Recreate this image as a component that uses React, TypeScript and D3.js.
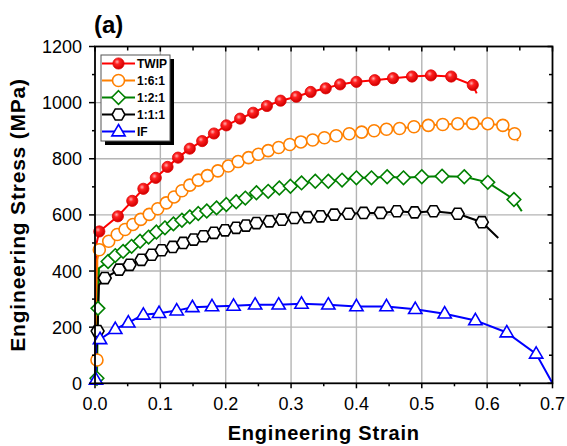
import React from 'react';
import * as d3 from 'd3';

type Pt = [number, number];

// strain, stress (MPa)
const twipKnee: Pt[] = [[0.0025, 500]];
const twipMarks: Pt[] = [
  [0.0066, 541], [0.035, 595], [0.057, 650], [0.074, 693], [0.093, 732], [0.111, 771],
  [0.127, 804], [0.145, 836], [0.164, 863], [0.182, 890], [0.201, 919], [0.222, 943],
  [0.242, 964], [0.263, 988], [0.284, 1007], [0.308, 1021], [0.330, 1038], [0.353, 1051],
  [0.375, 1065], [0.400, 1074], [0.428, 1080], [0.456, 1087], [0.485, 1093], [0.514, 1097],
  [0.545, 1093], [0.578, 1063],
];
const twipTail: Pt[] = [[0.584, 1033]];

const s161Early: Pt[] = [[0.003, 83]];
const s161Knee: Pt[] = [[0.0035, 440]];
const s161Marks: Pt[] = [
  [0.0066, 476], [0.021, 506], [0.034, 530], [0.046, 548], [0.058, 566], [0.070, 584],
  [0.083, 602], [0.096, 622], [0.109, 643], [0.121, 664], [0.133, 686], [0.145, 706],
  [0.158, 724], [0.172, 740], [0.188, 757], [0.204, 774], [0.219, 790], [0.235, 804],
  [0.250, 816], [0.265, 829], [0.281, 840], [0.298, 851], [0.315, 860], [0.333, 867],
  [0.351, 875], [0.369, 882], [0.389, 889], [0.408, 895], [0.427, 900], [0.446, 905],
  [0.466, 908], [0.488, 914], [0.510, 919], [0.532, 922], [0.555, 925], [0.578, 926],
  [0.601, 925], [0.624, 919], [0.642, 889],
];
const s161Tail: Pt[] = [[0.647, 863]];

const s121Early: Pt[] = [[0.003, 18], [0.0045, 267]];
const s121Knee: Pt[] = [[0.006, 410]];
const s121Marks: Pt[] = [
  [0.020, 434], [0.031, 455], [0.043, 470], [0.056, 488], [0.069, 506], [0.082, 521],
  [0.094, 539], [0.107, 554], [0.120, 568], [0.133, 581], [0.145, 593], [0.158, 605],
  [0.171, 614], [0.186, 625], [0.201, 637], [0.216, 647], [0.230, 660], [0.247, 679],
  [0.265, 684], [0.282, 696], [0.299, 702], [0.316, 714], [0.337, 720], [0.357, 720],
  [0.378, 724], [0.400, 732], [0.423, 732], [0.447, 736], [0.472, 732], [0.500, 736],
  [0.531, 738], [0.565, 736], [0.601, 716], [0.641, 655],
];
const s121Tail: Pt[] = [[0.653, 613]];

const s111Early: Pt[] = [[0.004, 186]];
const s111Knee: Pt[] = [[0.006, 350]];
const s111Marks: Pt[] = [
  [0.015, 375], [0.037, 405], [0.053, 422], [0.071, 440], [0.087, 458], [0.102, 474],
  [0.119, 486], [0.135, 500], [0.151, 512], [0.166, 524], [0.182, 536], [0.199, 545],
  [0.216, 554], [0.231, 562], [0.247, 571], [0.267, 577], [0.286, 583], [0.305, 589],
  [0.325, 592], [0.345, 595], [0.366, 601], [0.388, 604], [0.411, 607], [0.437, 607],
  [0.462, 613], [0.489, 609], [0.518, 613], [0.555, 604], [0.592, 574],
];
const s111Tail: Pt[] = [[0.617, 518]];

const ifEarly: Pt[] = [[0.0015, 12]];
const ifKnee: Pt[] = [[0.001, 140]];
const ifMarks: Pt[] = [
  [0.0077, 157], [0.031, 193], [0.051, 216], [0.074, 244], [0.098, 250], [0.125, 259],
  [0.149, 271], [0.179, 274], [0.212, 276], [0.245, 280], [0.281, 280], [0.316, 283],
  [0.357, 280], [0.400, 274], [0.446, 274], [0.490, 264], [0.535, 248], [0.582, 224],
  [0.630, 181], [0.675, 105],
];
const ifTail: Pt[] = [[0.700, 0]];

const xTicks = [0, 0.1, 0.2, 0.3, 0.4, 0.5, 0.6, 0.7];
const yTicks = [0, 200, 400, 600, 800, 1000, 1200];

type Shape = 'ball' | 'circle' | 'diamond' | 'hexagon' | 'triangle';
const series: { name: string; color: string; shape: Shape; early: Pt[]; knee: Pt[]; marks: Pt[]; tail: Pt[] }[] = [
  { name: 'TWIP', color: '#ff0000', shape: 'ball', early: [], knee: twipKnee, marks: twipMarks, tail: twipTail },
  { name: '1:6:1', color: '#ff8000', shape: 'circle', early: s161Early, knee: s161Knee, marks: s161Marks, tail: s161Tail },
  { name: '1:2:1', color: '#008000', shape: 'diamond', early: s121Early, knee: s121Knee, marks: s121Marks, tail: s121Tail },
  { name: '1:1:1', color: '#000000', shape: 'hexagon', early: s111Early, knee: s111Knee, marks: s111Marks, tail: s111Tail },
  { name: 'IF', color: '#0000ff', shape: 'triangle', early: ifEarly, knee: ifKnee, marks: ifMarks, tail: ifTail },
];

const W = 567, H = 446;
const m = { left: 95, right: 552.5, top: 46.5, bottom: 383.3 };
const font = '"Liberation Sans", Arial, sans-serif';

const Marker = ({ shape, color, x, y }: { shape: Shape; color: string; x: number; y: number }) => {
  const sw = 1.6;
  if (shape === 'ball') return <circle cx={x} cy={y} r={5.6} fill="url(#ball)" stroke="#e00000" strokeWidth={0.8} />;
  if (shape === 'circle') return <circle cx={x} cy={y} r={6} fill="#fff" stroke={color} strokeWidth={sw} />;
  if (shape === 'diamond') {
    const r = 6.8;
    return <path d={`M${x},${y - r}L${x + r},${y}L${x},${y + r}L${x - r},${y}Z`} fill="#fff" stroke={color} strokeWidth={sw} />;
  }
  if (shape === 'hexagon') {
    const r = 6.4;
    const pts = d3.range(6).map(i => [x + r * Math.cos((i * Math.PI) / 3), y + r * Math.sin((i * Math.PI) / 3)]);
    return <path d={d3.line()(pts as [number, number][]) + 'Z'} fill="#fff" stroke={color} strokeWidth={sw} />;
  }
  const r = 7;
  return <path d={`M${x},${y - r}L${x + r * 0.95},${y + r * 0.62}L${x - r * 0.95},${y + r * 0.62}Z`} fill="#fff" stroke={color} strokeWidth={sw} />;
};

export default function App() {
  const x = d3.scaleLinear().domain([0, 0.7]).range([m.left, m.right]);
  const y = d3.scaleLinear().domain([0, 1200]).range([m.bottom, m.top]);
  const line = d3.line<Pt>().x(d => x(d[0])).y(d => y(d[1]));
  const xMinor = d3.range(0, 0.701, 0.05);
  const yMinor = d3.range(0, 1201, 100);

  return (
    <svg width={W} height={H} style={{ position: 'absolute', left: 0, top: 0, background: '#fff' }}>
      <defs>
        <radialGradient id="ball" cx="0.38" cy="0.35" r="0.65">
          <stop offset="0" stopColor="#ffb0b0" />
          <stop offset="0.35" stopColor="#ff2020" />
          <stop offset="1" stopColor="#d00000" />
        </radialGradient>
      </defs>

      {/* grid */}
      {xTicks.slice(1, -1).map(t => (
        <line key={'gx' + t} x1={x(t)} x2={x(t)} y1={m.top} y2={m.bottom} stroke="#b4b4b4" strokeWidth={1.4} />
      ))}
      {yTicks.slice(1, -1).map(t => (
        <line key={'gy' + t} x1={m.left} x2={m.right} y1={y(t)} y2={y(t)} stroke="#b4b4b4" strokeWidth={1.4} />
      ))}

      {/* curves */}
      {series.map(s => (
        <path key={s.name} d={line([[0, 0], ...s.early, ...s.knee, ...s.marks, ...s.tail]) || ''} fill="none" stroke={s.color} strokeWidth={2} />
      ))}
      {series.map(s =>
        [...s.early, ...s.marks].map((p, i) => <Marker key={s.name + i} shape={s.shape} color={s.color} x={x(p[0])} y={y(p[1])} />)
      )}

      {/* frame + ticks */}
      <rect x={m.left} y={m.top} width={m.right - m.left} height={m.bottom - m.top} fill="none" stroke="#000" strokeWidth={1.8} />
      {xMinor.map((t, i) => {
        const major = i % 2 === 0;
        return (
          <g key={'tx' + i}>
            <line x1={x(t)} x2={x(t)} y1={m.bottom} y2={m.bottom + (major ? 5 : 3)} stroke="#000" strokeWidth={1.5} />
            <line x1={x(t)} x2={x(t)} y1={m.top} y2={m.top + (major ? 5 : 4)} stroke="#000" strokeWidth={1.5} />
          </g>
        );
      })}
      {yMinor.map((t, i) => {
        const major = i % 2 === 0;
        return (
          <g key={'ty' + i}>
            <line x1={m.left} x2={m.left - (major ? 6 : 3)} y1={y(t)} y2={y(t)} stroke="#000" strokeWidth={1.5} />
            <line x1={m.right} x2={m.right - (major ? 5 : 3.5)} y1={y(t)} y2={y(t)} stroke="#000" strokeWidth={1.5} />
          </g>
        );
      })}
      {xTicks.map(t => (
        <text key={'lx' + t} x={x(t)} y={410} textAnchor="middle" fontFamily={font} fontSize={18}>{t.toFixed(1)}</text>
      ))}
      {yTicks.map(t => (
        <text key={'ly' + t} x={82} y={y(t) + 6.5} textAnchor="end" fontFamily={font} fontSize={18}>{t}</text>
      ))}

      {/* labels */}
      <text x={(m.left + m.right) / 2} y={440} textAnchor="middle" fontFamily={font} fontSize={20} fontWeight="bold" letterSpacing={0.8}>Engineering Strain</text>
      <text transform={`translate(25,${(m.top + m.bottom) / 2}) rotate(-90)`} textAnchor="middle" fontFamily={font} fontSize={21} fontWeight="bold" letterSpacing={0.8}>Engineering Stress (MPa)</text>
      <text x={94} y={33} fontFamily={font} fontSize={24} fontWeight="bold">(a)</text>

      {/* legend */}
      <rect x={105} y={59} width={69} height={86} fill="#000" />
      <rect x={101} y={55} width={69} height={86} fill="#fff" stroke="#555" strokeWidth={1} />
      {series.map((s, i) => {
        const ly = 63.5 + i * 17;
        return (
          <g key={'lg' + s.name}>
            <line x1={102} x2={135} y1={ly} y2={ly} stroke={s.color} strokeWidth={2} />
            <Marker shape={s.shape} color={s.color} x={118.5} y={ly} />
            <text x={137} y={ly + 4.3} fontFamily={font} fontSize={12} fontWeight="bold">{s.name}</text>
          </g>
        );
      })}
    </svg>
  );
}
